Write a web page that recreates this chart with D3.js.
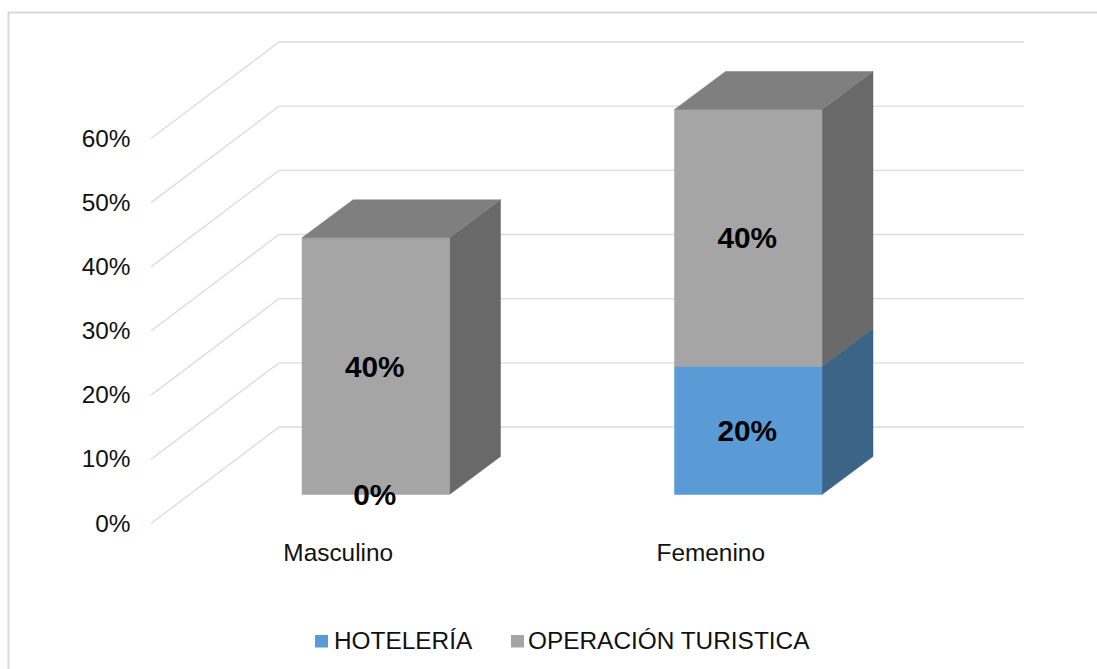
<!DOCTYPE html>
<html><head><meta charset="utf-8">
<script src="https://cdnjs.cloudflare.com/ajax/libs/d3/7.8.5/d3.min.js"></script>
<style>html,body{margin:0;padding:0;background:#fff;overflow:hidden}svg{display:block}text{font-family:"Liberation Sans",Arial,sans-serif;fill:#111}</style>
</head><body><svg id="c" width="1097" height="669"></svg>
<script>
const categories = ["Masculino", "Femenino"];
const seriesNames = ["HOTELERÍA", "OPERACIÓN TURISTICA"];
const hoteleria = [0, 0.2];
const operacion = [0.4, 0.4];
const tickValues = [0, 0.1, 0.2, 0.3, 0.4, 0.5, 0.6];

const W = 1097, H = 669;
const svg = d3.select("#c");
const grid = "#dcdcdc";
const faces = [
  {front:"#5b9bd5", side:"#3b6487", top:"#4a7ead"},
  {front:"#a5a5a5", side:"#696969", top:"#7f7f7f"}
];
const y = d3.scaleLinear().domain([0, 0.6]).range([523.5, 138.5]);
const x = d3.scaleBand().domain(categories).range([151, 896]);
const wall = {dx:128, dy:-96.5};
const bar = {ox:38.5, oy:-29, dx:51, dy:-38, w:147.5};
const pct = d3.format(".0%");
const line = d3.line();

svg.append("path").attr("d", line([[8.5,H+2],[8.5,12.5],[W+2,12.5]]))
  .attr("fill","none").attr("stroke","#d9d9d9").attr("stroke-width",2);

tickValues.forEach(t => {
  const py = y(t);
  svg.append("path").attr("d", line([[151,py],[151+wall.dx,py+wall.dy],[896+wall.dx,py+wall.dy]]))
    .attr("fill","none").attr("stroke",grid).attr("stroke-width",1.4);
  svg.append("text").attr("x",130.5).attr("y",py+8).attr("text-anchor","end")
    .attr("font-size",24.4).text(pct(t));
});

const poly = (pts, fill) => svg.append("path").attr("d", line(pts)+"Z").attr("fill",fill).attr("stroke",fill).attr("stroke-width",0.5);

const stack = [hoteleria, operacion];
categories.forEach((c, i) => {
  const cx = x(c) + x.bandwidth()/2 + bar.ox;
  const x0 = cx - bar.w/2, x1 = cx + bar.w/2;
  const y0off = bar.oy;
  let base = 0;
  stack.forEach((s, k) => {
    const v = s[i];
    const a = y(base) + y0off, b = y(base+v) + y0off;
    if (v > 0) {
      poly([[x1,a],[x1+bar.dx,a+bar.dy],[x1+bar.dx,b+bar.dy],[x1,b]], faces[k].side);
      poly([[x0,a],[x1,a],[x1,b],[x0,b]], faces[k].front);
      if (k === stack.length-1) poly([[x0,b],[x1,b],[x1+bar.dx,b+bar.dy],[x0+bar.dx,b+bar.dy]], faces[k].top);
    }
    base += v;
  });
  base = 0;
  stack.forEach((s, k) => {
    const v = s[i];
    const my = y(base + v/2) + y0off;
    svg.append("text").attr("x",cx-1).attr("y",my+10.5).attr("text-anchor","middle")
      .attr("font-size",29.8).attr("font-weight","bold").style("fill","#000").text(pct(v));
    base += v;
  });
  svg.append("text").attr("x",x(c)+x.bandwidth()/2+1).attr("y",561).attr("text-anchor","middle")
    .attr("font-size",24.4).text(c);
});

const legendX = [[315,334],[511,528]];
seriesNames.forEach((n,k) => {
  svg.append("rect").attr("x",legendX[k][0]).attr("y",635).attr("width",13).attr("height",12.5).attr("fill",faces[k].front);
  svg.append("text").attr("x",legendX[k][1]).attr("y",649).attr("font-size",24.4).text(n);
});
</script></body></html>
